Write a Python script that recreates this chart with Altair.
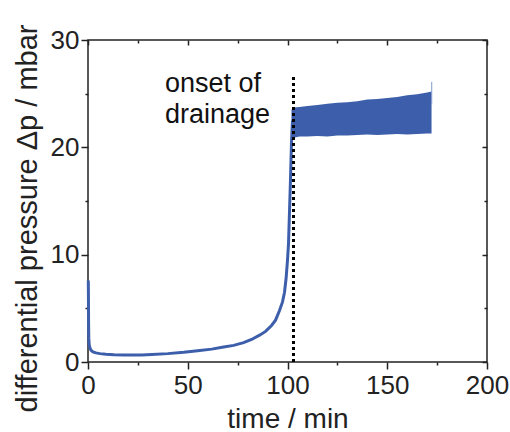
import altair as alt
import pandas as pd

# main curve (time in min, differential pressure in mbar)
curve_t = [0.15, 0.2, 0.25, 0.3, 0.4, 0.6, 1.0, 1.5, 2.5, 4, 6, 9, 13, 18, 22, 27, 32, 40, 48,
           55, 62, 68, 73, 78, 82, 86, 89, 92, 94, 96, 97.5, 98.5, 99.3, 100, 100.5, 101,
           101.5, 102, 102.5]
curve_p = [7.6, 6.5, 5.0, 3.5, 2.2, 1.6, 1.3, 1.1, 0.95, 0.85, 0.78, 0.72, 0.68, 0.66, 0.65,
           0.66, 0.7, 0.78, 0.9, 1.05, 1.2, 1.4, 1.55, 1.8, 2.1, 2.5, 2.85, 3.4, 3.9, 4.8,
           5.6, 6.5, 7.8, 9.5, 11.0, 14.0, 17.0, 20.5, 22.5]

# oscillation band after onset of drainage
band_t = [102, 103, 106, 110, 115, 120, 125, 130, 135, 140, 145, 150, 155, 160, 165, 170, 172.2]
band_low = [21.0, 20.9, 21.0, 21.0, 21.05, 21.0, 21.1, 21.1, 21.15, 21.2, 21.15, 21.2, 21.25,
            21.2, 21.25, 21.3, 21.3]
band_high = [23.5, 23.7, 23.75, 23.85, 23.95, 24.05, 24.15, 24.2, 24.3, 24.45, 24.5, 24.6,
             24.7, 24.85, 24.95, 25.1, 25.2]

spike_t = [172.3]
spike_lo = [24.0]
spike_hi = [26.1]

onset_t = [103]
onset_lo = [0]
onset_hi = [26.7]

label_text = ["onset of", "drainage"]
label_t = [38.6, 38.6]
label_p = [25.2, 22.3]

x_major = [0, 50, 100, 150, 200]
x_minor = [25, 75, 125, 175]
y_major = [0, 10, 20, 30]
y_minor = [5, 15, 25]

BLUE = "#3d5fab"
INK = "#222222"
FONT = "Liberation Sans"
W, H = 399, 322

curve = pd.DataFrame({"t": curve_t, "p": curve_p})
band = pd.DataFrame({"t": band_t, "lo": band_low, "hi": band_high})
spike = pd.DataFrame({"t": spike_t, "lo": spike_lo, "hi": spike_hi})
onset = pd.DataFrame({"t": onset_t, "lo": onset_lo, "hi": onset_hi})
labels = pd.DataFrame({"t": label_t, "p": label_p, "txt": label_text})

xs = alt.Scale(domain=[0, 200], nice=False, zero=False)
ys = alt.Scale(domain=[0, 30], nice=False, zero=False)


def ax(orient, values, size, labels=False, offset=0, **kw):
    return alt.Axis(orient=orient, values=values, tickSize=size, tickWidth=1.5,
                    tickColor=INK, labels=labels, domain=False, grid=False,
                    offset=offset, **kw)


band_layer = alt.Chart(band).mark_area(color=BLUE, opacity=1).encode(
    x=alt.X("t:Q", scale=xs, title="time / min",
            axis=ax("bottom", x_major, 7, labels=True, labelFontSize=26, labelFont=FONT,
                    labelColor=INK, labelPadding=3, labelFlush=False, titleFontSize=28,
                    titleFont=FONT, titleColor=INK, titleFontWeight="normal", titlePadding=7)),
    y=alt.Y("lo:Q", scale=ys, title="differential pressure Δp / mbar",
            axis=ax("left", y_major, 7, labels=True, labelFontSize=26, labelFont=FONT,
                    labelColor=INK, labelPadding=2, labelFlush=False, titleFontSize=29,
                    titleFont=FONT, titleColor=INK, titleFontWeight="normal", titleAngle=-90,
                    titleAlign="center", titleBaseline="alphabetic", titleX=-52, titleY=178)),
    y2="hi:Q",
)

inv = alt.Chart(curve).mark_point(opacity=0)
minor_out = inv.encode(
    x=alt.X("t:Q", scale=xs, title="", axis=ax("bottom", x_minor, 3)),
    y=alt.Y("p:Q", scale=ys, title="", axis=ax("left", y_minor, 3)),
)
major_in = inv.encode(
    x=alt.X("t:Q", scale=xs, title="", axis=ax("bottom", x_major, 5, offset=-H)),
    y=alt.Y("p:Q", scale=ys, title="", axis=ax("left", y_major, 5, offset=-W)),
)
minor_in = inv.encode(
    x=alt.X("t:Q", scale=xs, title="", axis=ax("bottom", x_minor, 3, offset=-H)),
    y=alt.Y("p:Q", scale=ys, title="", axis=ax("left", y_minor, 3, offset=-W)),
)

line_layer = alt.Chart(curve).mark_line(color=BLUE, strokeWidth=3).encode(
    x=alt.X("t:Q", scale=xs, axis=None),
    y=alt.Y("p:Q", scale=ys, axis=None),
)

spike_layer = alt.Chart(spike).mark_rule(color="#7f98cc", strokeWidth=1).encode(
    x=alt.X("t:Q", scale=xs, axis=None),
    y=alt.Y("lo:Q", scale=ys, axis=None),
    y2="hi:Q",
)

onset_layer = alt.Chart(onset).mark_rule(color="black", strokeWidth=3, strokeDash=[3, 3]).encode(
    x=alt.X("t:Q", scale=xs, axis=None),
    y=alt.Y("lo:Q", scale=ys, axis=None),
    y2="hi:Q",
)

text_layer = alt.Chart(labels).mark_text(
    align="left", baseline="alphabetic", fontSize=27, font=FONT, color="#111111"
).encode(
    x=alt.X("t:Q", scale=xs, axis=None),
    y=alt.Y("p:Q", scale=ys, axis=None),
    text="txt:N",
)

chart = alt.layer(
    band_layer, minor_out, major_in, minor_in, line_layer, spike_layer, onset_layer, text_layer
).resolve_axis(x="independent", y="independent").properties(
    width=W, height=H,
    autosize=alt.AutoSizeParams(type="none"),
    padding={"left": 88, "top": 40, "right": 23, "bottom": 70},
    background="white",
).configure_view(stroke=INK, strokeWidth=1.5)

chart.save("out.html", embed_options={"renderer": "svg", "actions": False})
